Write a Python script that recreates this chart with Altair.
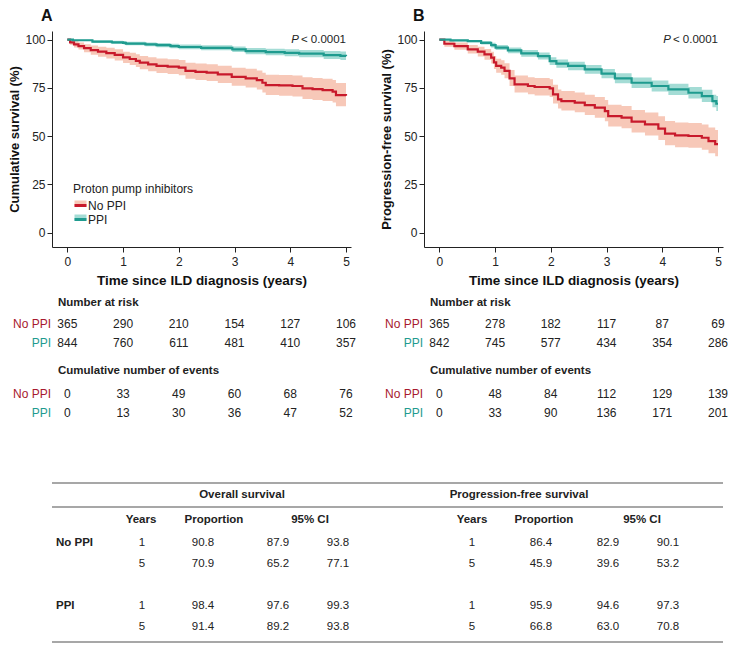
import altair as alt
import pandas as pd

FONT = "Liberation Sans"

groups = ["No PPI", "PPI"]
line_colors = ["#c8192b", "#1f9b8f"]
band_colors = ["#f7c8b8", "#a4dcd5"]
risk_label_colors = ["#a8192e", "#1f9b8f"]

# ---------- Panel A: overall survival (steps) ----------
os_nop_t = [0, 0.05, 0.12, 0.2, 0.3, 0.42, 0.55, 0.7, 0.85, 1.0, 1.12, 1.23, 1.3, 1.45, 1.6, 1.8, 2.0, 2.12, 2.3, 2.5,
            2.7, 2.95, 3.2, 3.4, 3.5, 3.56, 3.8, 4.04, 4.22, 4.4, 4.58, 4.76, 4.82, 5.0]
os_nop_s = [100, 98.6, 97.6, 96.7, 95.6, 94.6, 93.8, 93.0, 92.1, 90.8, 90.0, 89.0, 88.1, 87.2, 86.4, 86.0, 85.5, 83.8, 83.3, 82.9,
            82.0, 80.7, 80.0, 79.1, 77.7, 76.5, 76.3, 76.0, 74.8, 74.4, 73.9, 73.1, 71.3, 70.9]
os_nop_lo = [100, 97.4, 96.0, 94.9, 93.5, 92.2, 91.2, 90.2, 89.2, 87.9, 86.9, 85.8, 84.7, 83.7, 82.8, 82.2, 81.6, 79.7, 79.1, 78.6,
             77.6, 76.1, 75.2, 74.2, 72.6, 71.3, 71.0, 70.6, 69.3, 68.8, 68.2, 67.4, 65.5, 65.2]
os_nop_hi = [100, 99.8, 99.2, 98.5, 97.7, 97.0, 96.4, 95.8, 95.1, 93.8, 93.2, 92.4, 91.6, 90.9, 90.2, 89.9, 89.5, 88.0, 87.6, 87.3,
             86.5, 85.4, 84.9, 84.1, 82.9, 81.9, 81.7, 81.5, 80.5, 80.2, 79.8, 79.1, 77.5, 77.1]

os_ppi_t = [0, 0.1, 0.45, 0.8, 1.0, 1.05, 1.4, 1.6, 1.85, 2.0, 2.4, 2.96, 3.2, 3.56, 3.9, 4.16, 4.6, 4.9, 5.0]
os_ppi_s = [100, 99.7, 99.0, 98.6, 98.4, 98.0, 97.6, 97.2, 96.7, 96.2, 95.8, 95.0, 94.1, 93.6, 93.2, 92.8, 92.0, 91.6, 91.4]
os_ppi_lo = [100, 99.3, 98.3, 97.8, 97.6, 97.1, 96.6, 96.1, 95.6, 95.0, 94.5, 93.6, 92.5, 91.9, 91.4, 90.9, 90.0, 89.5, 89.2]
os_ppi_hi = [100, 100, 99.7, 99.4, 99.3, 98.9, 98.6, 98.3, 97.9, 97.5, 97.1, 96.5, 95.7, 95.3, 95.0, 94.7, 94.1, 93.9, 93.8]

# ---------- Panel B: progression-free survival ----------
pfs_nop_t = [0, 0.09, 0.27, 0.51, 0.69, 0.81, 0.93, 0.98, 1.02, 1.11, 1.17, 1.26, 1.35, 1.59, 1.71, 1.98, 2.04, 2.13, 2.19, 2.43,
             2.61, 2.79, 2.97, 3.03, 3.27, 3.45, 3.69, 3.93, 4.05, 4.23, 4.47, 4.71, 4.83, 4.95, 5.0]
pfs_nop_s = [100, 97.9, 96.7, 95.0, 93.8, 92.4, 90.7, 88.2, 86.4, 85.5, 83.8, 80.0, 76.9, 76.0, 75.5, 74.8, 71.7, 69.1, 68.2, 67.4,
             66.1, 64.8, 63.0, 60.4, 59.6, 57.5, 56.1, 53.9, 51.3, 50.4, 50.1, 49.2, 47.5, 45.9, 45.9]
pfs_nop_lo = [100, 96.4, 94.8, 92.8, 91.3, 89.6, 87.6, 84.8, 82.9, 81.8, 80.0, 76.0, 72.7, 71.7, 71.1, 70.3, 67.0, 64.3, 63.3, 62.4,
              61.0, 59.6, 57.7, 55.0, 54.1, 51.9, 50.4, 48.0, 45.3, 44.3, 44.0, 43.0, 41.2, 39.6, 39.6]
pfs_nop_hi = [100, 99.3, 98.5, 97.2, 96.3, 95.2, 93.8, 91.6, 90.1, 89.3, 87.8, 84.3, 81.4, 80.6, 80.1, 79.5, 76.6, 74.2, 73.4, 72.7,
              71.5, 70.3, 68.7, 66.3, 65.6, 63.6, 62.3, 60.3, 57.9, 57.1, 56.8, 56.0, 54.5, 53.2, 53.2]

pfs_ppi_t = [0, 0.2, 0.51, 0.75, 0.93, 1.01, 1.23, 1.47, 1.77, 1.98, 2.1, 2.31, 2.61, 2.91, 3.15, 3.45, 3.81, 4.11, 4.47, 4.71,
             4.9, 4.97, 5.0]
pfs_ppi_s = [100, 99.6, 99.3, 98.4, 97.2, 95.9, 94.5, 92.9, 91.5, 88.9, 87.6, 86.4, 84.6, 82.4, 80.0, 77.7, 76.0, 74.3, 72.5, 70.8,
             68.2, 66.8, 66.8]
pfs_ppi_lo = [100, 99.2, 98.7, 97.5, 96.0, 94.6, 93.0, 91.2, 89.7, 86.9, 85.5, 84.2, 82.3, 80.0, 77.4, 75.0, 73.2, 71.4, 69.5, 67.7,
              65.0, 63.0, 63.0]
pfs_ppi_hi = [100, 100, 99.9, 99.3, 98.4, 97.3, 96.0, 94.6, 93.3, 90.9, 89.7, 88.6, 86.9, 84.8, 82.6, 80.4, 78.8, 77.2, 75.5, 74.0,
              71.5, 70.8, 70.8]

# ---------- risk tables ----------
risk_times = [0, 1, 2, 3, 4, 5]
os_risk_nop = [365, 290, 210, 154, 127, 106]
os_risk_ppi = [844, 760, 611, 481, 410, 357]
os_ev_nop = [0, 33, 49, 60, 68, 76]
os_ev_ppi = [0, 13, 30, 36, 47, 52]
pfs_risk_nop = [365, 278, 182, 117, 87, 69]
pfs_risk_ppi = [842, 745, 577, 434, 354, 286]
pfs_ev_nop = [0, 48, 84, 112, 129, 139]
pfs_ev_ppi = [0, 33, 90, 136, 171, 201]

# ---------- summary table ----------
tbl_group = ["No PPI", "No PPI", "PPI", "PPI"]
tbl_years = [1, 5, 1, 5]
os_prop = [90.8, 70.9, 98.4, 91.4]
os_lo = [87.9, 65.2, 97.6, 89.2]
os_hi = [93.8, 77.1, 99.3, 93.8]
pfs_prop = [86.4, 45.9, 95.9, 66.8]
pfs_lo = [82.9, 39.6, 94.6, 63.0]
pfs_hi = [90.1, 53.2, 97.3, 70.8]

# ---------- layout constants ----------
W, H = 299, 216
XDOM = [-0.275, 5.09]
YDOM = [-7.4, 104.5]
TXT = "#222222"


def km_df(parts):
    frames = []
    for g, (t, s, lo, hi) in zip(groups, parts):
        frames.append(pd.DataFrame({"group": g, "time": t, "surv": s, "lo": lo, "hi": hi}))
    return pd.concat(frames, ignore_index=True)


def risk_df(nr_nop, nr_ppi, ev_nop, ev_ppi):
    frames = []
    for kind, g, vals in [("risk", groups[0], nr_nop), ("risk", groups[1], nr_ppi),
                          ("events", groups[0], ev_nop), ("events", groups[1], ev_ppi)]:
        frames.append(pd.DataFrame({"kind": kind, "group": g, "time": risk_times, "n": vals}))
    return pd.concat(frames, ignore_index=True)


dummy = pd.DataFrame({"k": [0]})
xs = alt.Scale(domain=XDOM, nice=False, zero=False)
ys = alt.Scale(domain=YDOM, nice=False, zero=False)

LEG_X, LEG_Y = 21, 153
leg_common = dict(orient="none", legendX=LEG_X, direction="vertical",
                  titleFontSize=12, titleFontWeight="normal",
                  titleColor=TXT, labelFontSize=12, labelColor=TXT,
                  rowPadding=0, padding=0, titlePadding=2, labelOffset=0)


def panel(letter, ylabel, km, rk):
    x_axis = alt.Axis(values=risk_times, title="Time since ILD diagnosis (years)", format="d", orient="bottom",
                      labelPadding=4, titlePadding=6, titleFontSize=13.5)
    y_axis = alt.Axis(values=[0, 25, 50, 75, 100], title=ylabel, format="d", orient="left",
                      labelPadding=2, titlePadding=3, titleFontSize=13)
    band = alt.Chart(km).mark_area(interpolate="step-after").encode(
        x=alt.X("time:Q", scale=xs, axis=x_axis),
        y=alt.Y("lo:Q", scale=ys, axis=y_axis),
        y2="hi:Q",
        fill=alt.Fill("group:N", scale=alt.Scale(range=band_colors),
                      legend=alt.Legend(symbolType="M-0.8,-0.4H0.8V0.4H-0.8Z", symbolSize=225,
                                        labelExpr="''", title=None,
                                        legendY=LEG_Y + 12, symbolStrokeWidth=0, **leg_common)),
    )
    line = alt.Chart(km).mark_line(interpolate="step-after", strokeWidth=2.2).encode(
        x=alt.X("time:Q", scale=xs, axis=x_axis),
        y=alt.Y("surv:Q", scale=ys, axis=y_axis),
        stroke=alt.Stroke("group:N", scale=alt.Scale(domain=groups, range=line_colors),
                          legend=alt.Legend(symbolType="stroke", symbolStrokeWidth=3, symbolSize=144,
                                            legendY=LEG_Y, title="Proton pump inhibitors", **leg_common)),
    )
    p_rest = alt.Chart(dummy).mark_text(text="< 0.0001", align="right", baseline="middle",
                                        fontSize=11.5, color=TXT).encode(
        x=alt.XDatum(datum=5, scale=xs, axis=x_axis), y=alt.YDatum(datum=100, scale=ys, axis=y_axis))
    p_it = alt.Chart(dummy).mark_text(text="P", align="right", baseline="middle", dx=-47,
                                      fontSize=11.5, fontStyle="italic", color=TXT).encode(
        x=alt.XDatum(datum=5, scale=xs, axis=x_axis), y=alt.YDatum(datum=100, scale=ys, axis=y_axis))
    lett = alt.Chart(dummy).mark_text(text=letter, align="left", baseline="alphabetic",
                                      fontSize=16, fontWeight="bold", color="#111").encode(
        x=alt.value(-11), y=alt.value(-10))
    layers = [band, line, p_rest, p_it, lett]
    for txt, ypx in [("Number at risk", 272), ("Cumulative number of events", 340)]:
        layers.append(alt.Chart(dummy).mark_text(text=txt, align="left", baseline="middle", fontSize=11.5,
                                                 fontWeight="bold", color=TXT).encode(
            x=alt.value(6), y=alt.value(ypx)))
    rows = [("risk", 0, 293), ("risk", 1, 312), ("events", 0, 363), ("events", 1, 382)]
    for kind, gi, ypx in rows:
        g = groups[gi]
        layers.append(alt.Chart(rk).transform_filter(
            (alt.datum.kind == kind) & (alt.datum.group == g)).mark_text(
            fontSize=12, baseline="middle", color=TXT).encode(
            x=alt.X("time:Q", scale=xs, axis=x_axis), y=alt.value(ypx), text="n:Q"))
        layers.append(alt.Chart(dummy).mark_text(text=g, align="right", baseline="middle", fontSize=12,
                                                 color=risk_label_colors[gi]).encode(
            x=alt.value(-1), y=alt.value(ypx)))
    return alt.layer(*layers).properties(width=W, height=H)


kmA = km_df([(os_nop_t, os_nop_s, os_nop_lo, os_nop_hi), (os_ppi_t, os_ppi_s, os_ppi_lo, os_ppi_hi)])
kmB = km_df([(pfs_nop_t, pfs_nop_s, pfs_nop_lo, pfs_nop_hi), (pfs_ppi_t, pfs_ppi_s, pfs_ppi_lo, pfs_ppi_hi)])
rkA = risk_df(os_risk_nop, os_risk_ppi, os_ev_nop, os_ev_ppi)
rkB = risk_df(pfs_risk_nop, pfs_risk_ppi, pfs_ev_nop, pfs_ev_ppi)

panelA = panel("A", "Cumulative survival (%)", kmA, rkA)
panelB = panel("B", "Progression-free survival (%)", kmB, rkB)
top = alt.hconcat(panelA, panelB, spacing=24)

# ---------- bottom table (origin aligned with panel A plot area) ----------
TW, TH = 671, 160
tdf = pd.DataFrame({"group": tbl_group, "years": tbl_years, "os_prop": os_prop, "os_lo": os_lo, "os_hi": os_hi,
                    "pfs_prop": pfs_prop, "pfs_lo": pfs_lo, "pfs_hi": pfs_hi})
tbase = alt.Chart(tdf).transform_calculate(
    rowpos="(datum.group == 'PPI' ? 3 : 0) + (datum.years == 5 ? 1 : 0)")
yrow = alt.Y("rowpos:Q", scale=alt.Scale(domain=[0, 4], range=[60, 144]), axis=None)

tlayers = []
for yv in [0, 24, 159]:
    tlayers.append(alt.Chart(dummy).mark_rule(color="#8a8a8a", strokeWidth=1.6).encode(
        x=alt.value(0), x2=alt.value(TW), y=alt.value(yv)))
for txt, xv, yv in [("Overall survival", 190, 12), ("Progression-free survival", 467, 12),
                    ("Years", 89, 37), ("Proportion", 162, 37), ("95% CI", 258, 37),
                    ("Years", 420, 37), ("Proportion", 492, 37), ("95% CI", 590, 37)]:
    tlayers.append(alt.Chart(dummy).mark_text(text=txt, align="center", baseline="middle", fontSize=11.5,
                                              fontWeight="bold", color=TXT).encode(
        x=alt.value(xv), y=alt.value(yv)))
tlayers.append(tbase.transform_filter(alt.datum.years == 1).mark_text(
    align="left", baseline="middle", fontSize=11.5, fontWeight="bold", color=TXT).encode(
    x=alt.value(4), y=yrow, text="group:N"))
for field, xv, fmt in [("years", 90, "d"), ("os_prop", 151, ".1f"), ("os_lo", 226, ".1f"), ("os_hi", 286, ".1f"),
                       ("years", 420, "d"), ("pfs_prop", 489, ".1f"), ("pfs_lo", 556, ".1f"),
                       ("pfs_hi", 616, ".1f")]:
    tlayers.append(tbase.mark_text(align="center", baseline="middle", fontSize=11.5, color=TXT).encode(
        x=alt.value(xv), y=yrow, text=alt.Text(f"{field}:Q", format=fmt)))
table = alt.layer(*tlayers).properties(width=TW, height=TH)

chart = alt.vconcat(top, table, spacing=63).properties(padding=0).configure(
    font=FONT
).configure_view(stroke=None).configure_axis(
    domainColor=TXT, tickColor=TXT, labelColor=TXT, titleColor="#111111",
    labelFontSize=12, titleFontWeight="bold", tickSize=5,
    grid=False, domainWidth=1, tickWidth=1
)

chart.save("out.html", embed_options={"renderer": "svg", "actions": False})
